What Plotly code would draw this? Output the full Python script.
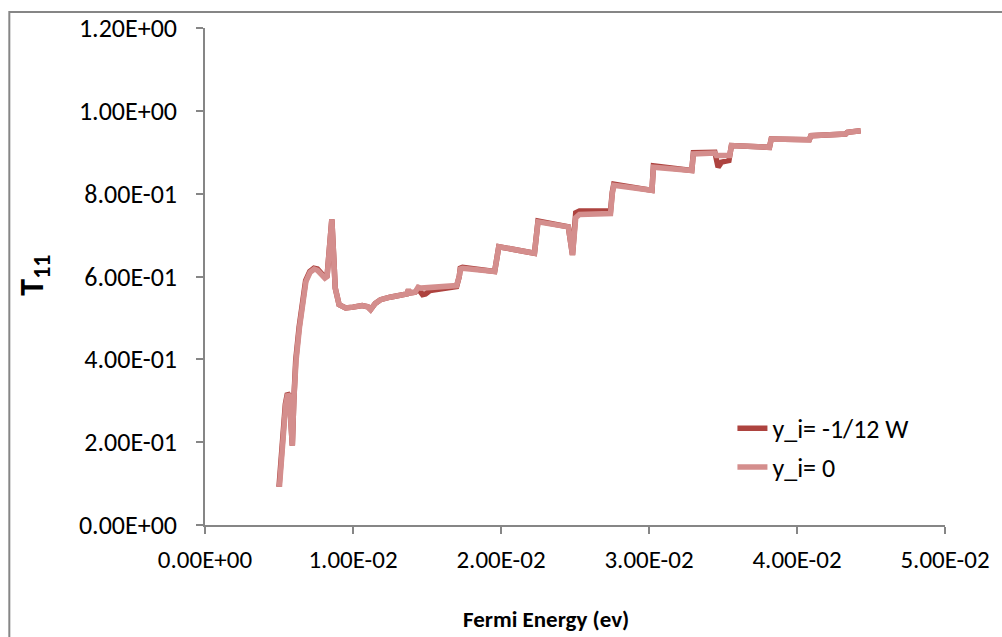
import plotly.graph_objects as go

# Fermi energy (eV) and T11 values
x_zero = [0.00503, 0.00525, 0.00545, 0.00559, 0.00572, 0.00580, 0.00590, 0.00600, 0.00615, 0.00638,
          0.00660, 0.00682, 0.00710, 0.00738, 0.00760, 0.00783, 0.00810, 0.00825, 0.00840, 0.00857,
          0.00868, 0.00880, 0.00906, 0.00950, 0.01000, 0.01062, 0.01100, 0.01119, 0.01150, 0.01186,
          0.01250, 0.01365, 0.01375, 0.01385, 0.01420, 0.01440, 0.01460, 0.01700, 0.01718, 0.01725,
          0.01740, 0.01957, 0.01975, 0.01985, 0.02226, 0.02240, 0.02250, 0.02455, 0.02470, 0.02483,
          0.02495, 0.02505, 0.02530, 0.02740, 0.02752, 0.02762, 0.03020, 0.03030, 0.03289, 0.03300,
          0.03445, 0.03455, 0.03545, 0.03557, 0.03814, 0.03826, 0.04083, 0.04094, 0.04329, 0.04340,
          0.04430]
t11_zero = [0.092, 0.220, 0.290, 0.316, 0.310, 0.250, 0.192, 0.300, 0.396, 0.476,
            0.540, 0.588, 0.610, 0.618, 0.615, 0.606, 0.596, 0.600, 0.660, 0.738,
            0.660, 0.572, 0.532, 0.524, 0.526, 0.530, 0.527, 0.520, 0.535, 0.544,
            0.550, 0.558, 0.568, 0.560, 0.562, 0.574, 0.572, 0.578, 0.600, 0.618,
            0.620, 0.612, 0.650, 0.672, 0.656, 0.700, 0.732, 0.720, 0.690, 0.652,
            0.700, 0.742, 0.750, 0.752, 0.800, 0.820, 0.808, 0.864, 0.856, 0.896,
            0.898, 0.892, 0.892, 0.916, 0.912, 0.932, 0.930, 0.940, 0.944, 0.948,
            0.952]

x_w12 = [0.00500, 0.00522, 0.00543, 0.00557, 0.00570, 0.00580, 0.00590, 0.00600, 0.00613, 0.00636,
         0.00658, 0.00680, 0.00708, 0.00736, 0.00760, 0.00783, 0.00810, 0.00825, 0.00840, 0.00857,
         0.00868, 0.00880, 0.00906, 0.00950, 0.01000, 0.01062, 0.01100, 0.01119, 0.01150, 0.01186,
         0.01250, 0.01365, 0.01375, 0.01385, 0.01420, 0.01440, 0.01470, 0.01490, 0.01520, 0.01600,
         0.01700, 0.01718, 0.01725, 0.01740, 0.01957, 0.01975, 0.01985, 0.02226, 0.02240, 0.02250,
         0.02455, 0.02470, 0.02483, 0.02495, 0.02505, 0.02530, 0.02740, 0.02752, 0.02762, 0.03020,
         0.03030, 0.03289, 0.03300, 0.03445, 0.03467, 0.03490, 0.03540, 0.03557, 0.03814, 0.03826,
         0.04083, 0.04094, 0.04329, 0.04340, 0.04430]
t11_w12 = [0.092, 0.222, 0.292, 0.318, 0.312, 0.250, 0.192, 0.300, 0.398, 0.478,
           0.542, 0.590, 0.612, 0.620, 0.618, 0.608, 0.598, 0.602, 0.660, 0.738,
           0.660, 0.572, 0.532, 0.524, 0.526, 0.530, 0.527, 0.520, 0.535, 0.544,
           0.550, 0.558, 0.568, 0.560, 0.562, 0.570, 0.556, 0.558, 0.566, 0.570,
           0.576, 0.600, 0.620, 0.622, 0.612, 0.650, 0.672, 0.656, 0.700, 0.734,
           0.720, 0.690, 0.652, 0.708, 0.754, 0.758, 0.758, 0.804, 0.823, 0.808,
           0.867, 0.856, 0.899, 0.900, 0.864, 0.876, 0.880, 0.916, 0.912, 0.932,
           0.930, 0.940, 0.944, 0.948, 0.952]

y_ticks = [0.0, 0.2, 0.4, 0.6, 0.8, 1.0, 1.2]
y_tick_text = ["0.00E+00", "2.00E-01", "4.00E-01", "6.00E-01", "8.00E-01", "1.00E+00", "1.20E+00"]
x_ticks = [0.0, 0.01, 0.02, 0.03, 0.04, 0.05]
x_tick_text = ["0.00E+00", "1.00E-02", "2.00E-02", "3.00E-02", "4.00E-02", "5.00E-02"]

FONT = "Carlito, Lato, 'Open Sans', sans-serif"
DARK = "#AD433F"
LIGHT = "#D48E8D"
AXIS = "#868686"

fig = go.Figure()
fig.add_trace(go.Scatter(x=x_w12, y=t11_w12, mode="lines", name="y_i= -1/12 W",
                         line=dict(color=DARK, width=5.5), legendgroup="a"))
fig.add_trace(go.Scatter(x=x_zero, y=t11_zero, mode="lines", name="y_i= 0",
                         line=dict(color=LIGHT, width=5.5), legendgroup="b"))

L, R, T, B = 205, 52, 25, 112
W, H = 1002, 637
pw, ph = W - L - R, H - T - B

def fx(px):
    return (px - L) / pw

def fy(py):
    return (H - B - py) / ph

fig.update_layout(
    width=W, height=H,
    margin=dict(l=L, r=R, t=T, b=B, pad=0),
    paper_bgcolor="white", plot_bgcolor="white",
    font=dict(family=FONT, size=25, color="black"),
    showlegend=True,
    legend=dict(x=fx(736), y=fy(404), xanchor="left", yanchor="top",
                bgcolor="rgba(0,0,0,0)", font=dict(size=26),
                tracegroupgap=2, traceorder="grouped", itemwidth=30),
    xaxis=dict(range=[0, 0.05], tickvals=x_ticks, ticktext=x_tick_text,
               showgrid=False, zeroline=False, showline=True, linecolor=AXIS, linewidth=1.5,
               ticks="outside", ticklen=7, tickcolor=AXIS, tickwidth=1.5,
               tickfont=dict(size=25), ticklabelstandoff=4),
    yaxis=dict(range=[0, 1.2], tickvals=y_ticks, ticktext=y_tick_text,
               showgrid=False, zeroline=False, showline=True, linecolor=AXIS, linewidth=1.5,
               ticks="outside", ticklen=7, tickcolor=AXIS, tickwidth=1.5,
               tickfont=dict(size=26), ticklabelstandoff=14),
    annotations=[
        dict(text="<b>Fermi Energy (ev)</b>", x=fx(548), y=fy(620), xref="paper", yref="paper",
             showarrow=False, font=dict(size=23), xanchor="center", yanchor="middle"),
        dict(text="<b>T<sub>11</sub></b>", x=fx(32), y=fy(274), xref="paper", yref="paper",
             showarrow=False, font=dict(size=34), textangle=-90, xanchor="center", yanchor="middle"),
    ],
    shapes=[
        dict(type="rect", xref="paper", yref="paper", x0=fx(8), y0=fy(660), x1=fx(1020), y1=fy(9),
             line=dict(color=AXIS, width=2), fillcolor="rgba(0,0,0,0)", layer="below"),
    ],
)

fig.write_html("out.html")
